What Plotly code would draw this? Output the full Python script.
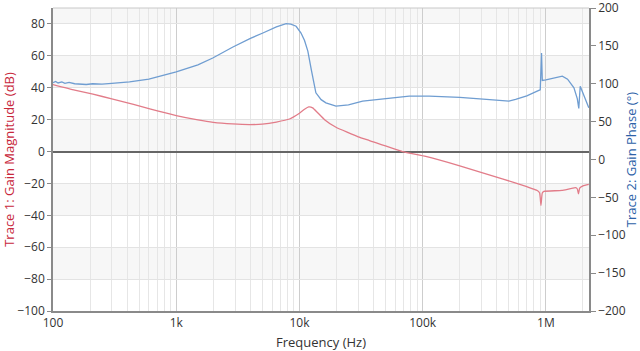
import plotly.graph_objects as go

# ---- data ----
mag_freq = [100, 150, 211, 300, 450, 610, 1000, 1500, 2000, 2860, 3940, 5000, 6500, 8300,
            10000, 11000, 11900, 12800, 14000, 16000, 19800, 30000, 37000, 68500, 106000, 200000,
            443000, 700000, 851000, 890000, 912000, 935000, 964000, 1350000, 1740000,
            1800000, 1840000, 1880000, 2000000, 2230000]
mag_db = [42.0, 38.5, 36.0, 33.0, 29.5, 26.7, 22.5, 19.8, 18.3, 17.3, 16.9, 17.2, 18.5, 20.4,
          24.0, 26.5, 28.0, 27.4, 24.5, 20.0, 15.2, 9.2, 6.9, 0.0, -3.1, -9.0,
          -17.1, -22.0, -24.4, -26.0, -33.8, -26.0, -25.0, -24.4, -22.7,
          -23.5, -26.5, -23.0, -21.5, -20.6]

ph_freq = [100, 105, 110, 118, 125, 135, 150, 170, 186, 210, 250, 300, 418, 600, 1000, 1500,
           1980, 2860, 4000, 5050, 6500, 7800, 8500, 9400, 10300, 11000, 11700, 12500, 13600,
           15000, 16400, 19800, 25000, 32600, 50000, 77800, 113000, 200000, 350000, 501000,
           568000, 700000, 877000, 900000, 922000, 935000, 1000000, 1200000, 1360000, 1500000,
           1690000, 1800000, 1850000, 1900000, 2230000]
ph_deg = [101.5, 103.0, 101.0, 102.5, 100.5, 101.8, 100.0, 99.5, 99.0, 100.0, 99.5, 100.5, 102.5,
          106.0, 115.7, 125.0, 134.0, 148.2, 160.0, 167.0, 175.0, 179.4, 178.8, 175.9, 167.0,
          157.0, 143.0, 118.0, 88.0, 79.0, 74.8, 70.5, 72.0, 77.0, 80.0, 83.6, 83.6, 82.0, 79.0,
          77.0, 79.3, 84.0, 91.2, 92.0, 140.7, 104.3, 105.0, 108.0, 110.0, 106.0, 94.6, 80.0,
          67.5, 96.8, 68.3]

x_tickvals = [100, 1000, 10000, 100000, 1000000]
x_ticktext = ["100", "1k", "10k", "100k", "1M"]
minor_vals = [m * d for d in [100, 1000, 10000, 100000, 1000000] for m in range(2, 10)]
mag_ticks = [-100, -80, -60, -40, -20, 0, 20, 40, 60, 80]
ph_ticks = [-200, -150, -100, -50, 0, 50, 100, 150, 200]
band_ranges = [(80, 90), (40, 60), (0, 20), (-40, -20), (-80, -60)]

FONT = "Open Sans"
RED = "#e27c89"
BLUE = "#6f9dd1"

fig = go.Figure()
fig.add_trace(go.Scatter(x=mag_freq, y=mag_db, mode="lines",
                         line=dict(color=RED, width=1.3, shape="spline", smoothing=0.4),
                         yaxis="y", showlegend=False))
fig.add_trace(go.Scatter(x=ph_freq, y=ph_deg, mode="lines",
                         line=dict(color=BLUE, width=1.3), yaxis="y2", showlegend=False))

shapes = []
for lo, hi in band_ranges:
    shapes.append(dict(type="rect", xref="paper", yref="y", x0=0, x1=1, y0=lo, y1=hi,
                       fillcolor="#f7f7f7", line=dict(width=0), layer="below"))
shapes.append(dict(type="line", xref="paper", yref="paper", x0=0, x1=1, y0=1, y1=1,
                   line=dict(color="#c8c8c8", width=1), layer="above"))

fig.update_layout(
    width=640, height=351,
    margin=dict(l=53, r=51, t=8, b=40),
    paper_bgcolor="white", plot_bgcolor="white",
    font=dict(family=FONT, size=12, color="#333333"),
    shapes=shapes,
    xaxis=dict(type="log", range=[2, 6.35], tickmode="array", tickvals=x_tickvals,
               ticktext=x_ticktext, showgrid=True, gridcolor="#cdcdcd", gridwidth=1,
               minor=dict(tickmode="array", tickvals=minor_vals, showgrid=True,
                          gridcolor="#e6e6e6", gridwidth=1),
               showline=True, linecolor="#8a8a8a", linewidth=1.5, ticks="",
               zeroline=False, automargin=False,
               title=dict(text="Frequency (Hz)", font=dict(size=13, color="#333333")),
               tickfont=dict(size=12)),
    yaxis=dict(range=[-100, 90], tickmode="array", tickvals=mag_ticks,
               showgrid=True, gridcolor="#e3e3e3", gridwidth=1,
               zeroline=True, zerolinecolor="#666666", zerolinewidth=1.5,
               showline=True, linecolor="#8a8a8a", linewidth=1.5,
               ticks="outside", ticklen=4, tickcolor="#8a8a8a", automargin=False,
               ticklabeloverflow="allow",
               title=dict(text="Trace 1: Gain Magnitude (dB)", font=dict(size=13, color="#c8283c")),
               tickfont=dict(size=12)),
    yaxis2=dict(range=[-200, 200], tickmode="array", tickvals=ph_ticks, overlaying="y",
                side="right", showgrid=False, zeroline=False,
                showline=True, linecolor="#8a8a8a", linewidth=1.5,
                ticks="outside", ticklen=5, tickcolor="#8a8a8a", automargin=False,
                ticklabeloverflow="allow",
                title=dict(text="Trace 2: Gain Phase (°)", font=dict(size=13, color="#2d62a8")),
                tickfont=dict(size=12)),
)

fig.write_html("out.html")
